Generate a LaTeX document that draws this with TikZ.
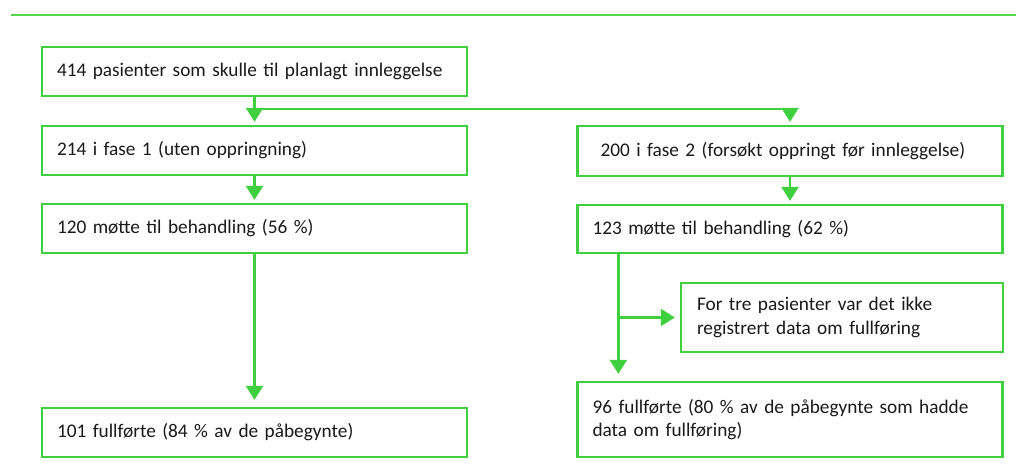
\documentclass[tikz,border=0pt]{standalone}
\usepackage{fontspec}
\setmainfont{Carlito}
\usepackage{tikz}
\usetikzlibrary{arrows.meta,positioning,calc}
\usepackage{xcolor}
\definecolor{Flow}{HTML}{3FCF3F}
\definecolor{Rule}{HTML}{55D84C}
\definecolor{Ink}{HTML}{1A1A1A}

\begin{document}
\begin{tikzpicture}[x=1pt,y=-1pt,
  box/.style={draw=Flow,line width=2.3pt,fill=white,align=left,inner xsep=15pt,inner ysep=0pt,
    font=\fontsize{19.3}{23.5}\selectfont,text=Ink},
  wide/.style={box,minimum width=425pt,text width=395pt},
  flow/.style={draw=Flow,line width=2.3pt,-{Triangle[length=14pt,width=17pt]}}]
\useasboundingbox (0,0) rectangle (1016,470);
\draw[Rule,line width=2.4pt] (11,15) -- (1016,15);
% left column
\node[wide,minimum height=49pt] (top) at (254.5,71.5) {414 pasienter som skulle til planlagt innleggelse};
\node[wide,minimum height=49pt] (fase1) at (254.5,150.5) {214 i fase 1 (uten oppringning)};
\node[wide,minimum height=49pt] (mott1) at (254.5,228.5) {120 møtte til behandling (56 \%)};
\node[wide,minimum height=49pt] (full1) at (254.5,432.5) {101 fullførte (84 \% av de påbegynte)};
% right column
\node[wide,minimum height=50pt] (fase2) at (790,151) {\hspace{8pt}200 i fase 2 (forsøkt oppringt før innleggelse)};
\node[wide,minimum height=48pt] (mott2) at (790,229) {123 møtte til behandling (62 \%)};
\node[box,minimum width=322pt,text width=290pt,minimum height=69pt] (miss) at (842,317.5) {For tre pasienter var det ikke\\registrert data om fullføring};
\node[wide,minimum height=75pt] (full2) at (790,419.5) {96 fullførte (80 \% av de påbegynte som hadde\\data om fullføring)};
% connectors
\coordinate (split) at ($(top.south)+(0,12)$);
\draw[flow,shorten >=3pt] (top.south) -- (fase1.north);
\draw[flow,shorten >=3pt] (split) -| (fase2.north);
\draw[flow,shorten >=3pt] (fase1.south) -- (mott1.north);
\draw[flow,shorten >=3pt] (fase2.south) -- (mott2.north);
\draw[flow,shorten >=7pt] (mott1.south) -- (full1.north);
\coordinate (tap) at ([xshift=42pt]mott2.south west);
\draw[flow,shorten >=7pt] (tap) -- (tap |- full2.north);
\draw[flow,shorten >=5pt] (tap |- miss.west) -- (miss.west);
\end{tikzpicture}
\end{document}
